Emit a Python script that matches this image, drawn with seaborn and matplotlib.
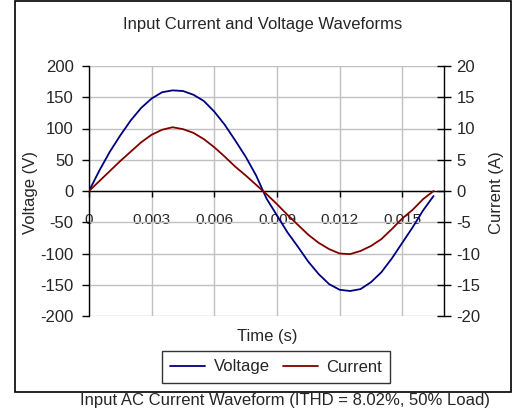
import matplotlib
matplotlib.use("Agg")
import matplotlib.pyplot as plt
import seaborn as sns
import numpy as np
import pandas as pd
from matplotlib.patches import Rectangle
from matplotlib.lines import Line2D

# ---- data ----
time_s = [0.0000, 0.0005, 0.0010, 0.0015, 0.0020, 0.0025, 0.0030, 0.0035, 0.0040,
          0.0045, 0.0050, 0.0055, 0.0060, 0.0065, 0.0070, 0.0075, 0.0080, 0.0085,
          0.0090, 0.0095, 0.0100, 0.0105, 0.0110, 0.0115, 0.0120, 0.0125, 0.0130,
          0.0135, 0.0140, 0.0145, 0.0150, 0.0155, 0.0160, 0.0165]
voltage_v = [0, 33, 63, 89, 113, 133, 148, 158, 161,
             160, 154, 144, 127, 106, 81, 55, 25, -12,
             -39, -66, -89, -113, -133, -149, -158, -160, -157,
             -146, -130, -108, -83, -58, -31, -8]
current_a = [0.0, 1.6, 3.2, 4.8, 6.3, 7.8, 9.0, 9.8, 10.2,
             9.9, 9.3, 8.3, 7.0, 5.5, 3.9, 2.5, 1.0, -0.5,
             -2.1, -3.8, -5.4, -7.0, -8.3, -9.3, -10.0, -10.1, -9.6,
             -8.8, -7.7, -6.1, -4.4, -3.0, -1.3, 0.0]
x_ticks = [0, 0.003, 0.006, 0.009, 0.012, 0.015]
x_tick_labels = ["0", "0.003", "0.006", "0.009", "0.012", "0.015"]
v_ticks = [-200, -150, -100, -50, 0, 50, 100, 150, 200]
i_ticks = [-20, -15, -10, -5, 0, 5, 10, 15, 20]

title = "Input Current and Voltage Waveforms"
caption = "Input AC Current Waveform (ITHD = 8.02%, 50% Load)"

df = pd.DataFrame({"t": time_s, "V": voltage_v, "I": current_a})

sns.set_theme(style="white")
plt.rcParams["font.family"] = ["Liberation Sans", "DejaVu Sans"]

W, H = 512, 409
fig = plt.figure(figsize=(W / 100, H / 100), dpi=100)
fig.patch.set_facecolor("white")

def fx(px):
    return px / W

def fy(py):
    return 1 - py / H

ax = fig.add_axes([fx(89), fy(316), fx(444) - fx(89), fy(66) - fy(316)])
ax2 = ax.twinx()

vcol = "#000080"
icol = "#800000"
sns.lineplot(data=df, x="t", y="V", ax=ax, color=vcol, linewidth=1.3, legend=False)
sns.lineplot(data=df, x="t", y="I", ax=ax2, color=icol, linewidth=1.3, legend=False)

ax.set_xlim(0, 0.017)
ax.set_ylim(-200, 200)
ax2.set_ylim(-20, 20)

fs = 12
grid_col = "#c0c0c0"
ax.set_xticks(x_ticks)
ax.set_xticklabels(x_tick_labels, fontsize=fs)
ax.set_yticks(v_ticks)
ax.set_yticklabels([str(v) for v in v_ticks], fontsize=fs)
ax2.set_yticks(i_ticks)
ax2.set_yticklabels([str(v) for v in i_ticks], fontsize=fs)

ax.grid(True, color=grid_col, linewidth=1.0)
ax.set_axisbelow(True)
ax2.grid(False)

for a in (ax, ax2):
    a.spines["top"].set_visible(False)
    a.set_facecolor("none")
ax.spines["right"].set_visible(False)
ax2.spines["left"].set_visible(False)
ax2.spines["bottom"].set_visible(False)
ax.spines["bottom"].set_position(("data", 0))
for s in (ax.spines["left"], ax.spines["bottom"], ax2.spines["right"]):
    s.set_color("black")
    s.set_linewidth(1.0)

ax.tick_params(axis="y", direction="out", length=5, width=1, color="black", pad=6, left=True)
ax.tick_params(axis="x", direction="out", length=4, width=1, color="black", pad=12, bottom=True)
ax2.tick_params(axis="y", direction="inout", length=10, width=1, color="black", pad=4, right=True)

ax.set_xlabel("")
ax.set_ylabel("")
ax2.set_ylabel("")

# texts
fig.text(fx(263), fy(25), title, fontsize=fs, ha="center", va="center")
fig.text(fx(267), fy(337), "Time (s)", fontsize=fs, ha="center", va="center")
fig.text(fx(30), fy(193), "Voltage (V)", fontsize=fs, ha="center", va="center", rotation=90)
fig.text(fx(496), fy(193), "Current (A)", fontsize=fs, ha="center", va="center", rotation=90)
fig.text(fx(285), fy(400), caption, fontsize=fs, ha="center", va="center")

# legend
handles = [Line2D([], [], color=vcol, linewidth=1.3), Line2D([], [], color=icol, linewidth=1.3)]
leg = fig.legend(handles, ["Voltage", "Current"], loc="center",
                 bbox_to_anchor=(fx(276), fy(367)), ncol=2, frameon=True,
                 fancybox=False, fontsize=fs, handlelength=2.1, handletextpad=0.5,
                 columnspacing=0.8, borderpad=0.5, borderaxespad=0)
leg.get_frame().set_edgecolor("black")
leg.get_frame().set_linewidth(1.0)

# outer chart frame
fig.patches.append(Rectangle((fx(15), fy(392)), fx(511) - fx(15), fy(1) - fy(392),
                             transform=fig.transFigure, fill=False,
                             edgecolor="black", linewidth=1.2, zorder=0))

fig.savefig("out.png", dpi=100)
